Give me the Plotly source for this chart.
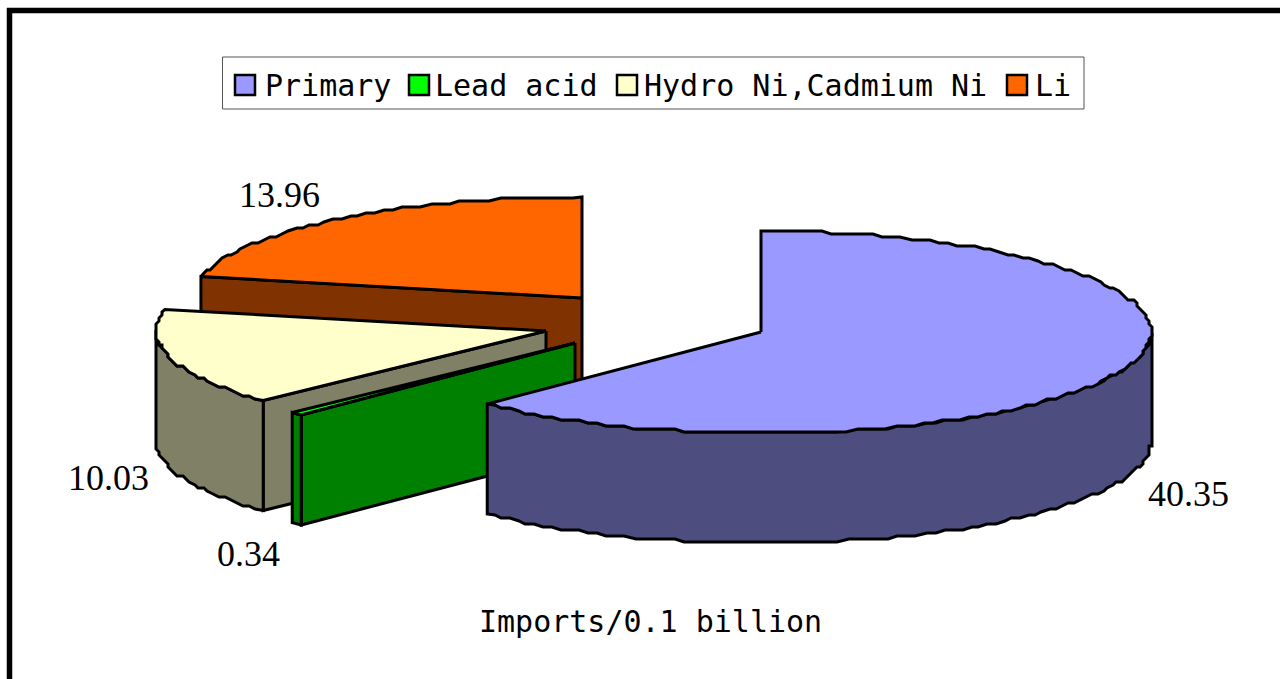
import math
import plotly.graph_objects as go

categories = ["Primary", "Lead acid", "Hydro Ni,Cadmium Ni", "Li"]
values = [40.35, 0.34, 10.03, 13.96]
value_labels = ["40.35", "0.34", "10.03", "13.96"]
caption = "Imports/0.1 billion"

top_colors = ["#9999FF", "#00FF00", "#FFFFCC", "#FF6600"]
side_colors = ["#4D4D80", "#008000", "#808066", "#803300"]

# Projection of the tilted pie onto the pixel-sized axes
RX, RY, DEPTH = 390, 101, 110
APEX = [(761, 332), (575, 343), (546, 331), (582, 298)]
LABEL_POS = [(1188, 494), (248, 554), (108, 478), (279, 195)]
LEGEND_SWATCH_X = [235, 409, 617, 1007]
LEGEND_TEXT_X = [263, 433, 642, 1033]
SANS = "DejaVu Sans Mono"
SERIF = "Liberation Serif"
STEP_X, STEP_Y = 3, 3


def exact(apex, deg, dz=0):
    a = math.radians(deg)
    return (apex[0] + RX * math.sin(a), apex[1] - RY * math.cos(a) + dz)


def rim(apex, deg, dz=0):
    x, y = exact(apex, deg)
    return (round(x / STEP_X) * STEP_X, round(y / STEP_Y) * STEP_Y + dz)


def arc(apex, a0, a1, dz=0):
    n = max(2, int(abs(a1 - a0) / 1.5))
    pts = [rim(apex, a0 + (a1 - a0) * i / n, dz) for i in range(n + 1)]
    # exact slice corners keep the edges crisp; 90/270 are rim tangents, not corners
    for i, deg in ((0, a0), (-1, a1)):
        if deg not in (90, 270):
            pts[i] = exact(apex, deg, dz)
    return pts


def poly(fig, pts, color, name):
    xs = [p[0] for p in pts] + [pts[0][0]]
    ys = [p[1] for p in pts] + [pts[0][1]]
    fig.add_trace(go.Scatter(
        x=xs, y=ys, mode="lines", fill="toself", fillcolor=color, name=name,
        line=dict(color="black", width=3, shape="linear"),
        hoverinfo="name", showlegend=False,
    ))


total = sum(values)
angles = []
start = 0.0
for v in values:
    end = start + v / total * 360
    angles.append((start, end))
    start = end

fig = go.Figure()
# Painter's order: back slices first
for i in (3, 2, 1, 0):
    apex = APEX[i]
    a0, a1 = angles[i]
    name = categories[i]
    # radial face at the slice start, seen for the slices left of centre
    if i in (1, 2, 3):
        r0 = exact(apex, a0)
        poly(fig, [apex, r0, (r0[0], r0[1] + DEPTH), (apex[0], apex[1] + DEPTH)],
             side_colors[i], name)
    # outer wall, only the front half of the rim
    w0, w1 = max(a0, 90), min(a1, 270)
    if w1 > w0:
        upper = arc(apex, w0, w1)
        lower = arc(apex, w1, w0, DEPTH)
        poly(fig, upper + lower, side_colors[i], name)
    # top surface
    poly(fig, [apex] + arc(apex, a0, a1), top_colors[i], name)

annotations = []
for txt, (x, y) in zip(value_labels, LABEL_POS):
    annotations.append(dict(x=x, y=y, xref="x", yref="y", text=txt, showarrow=False,
                            font=dict(family=SERIF, size=36, color="black"),
                            xanchor="center", yanchor="middle"))
annotations.append(dict(x=650, y=621, xref="x", yref="y", text=caption, showarrow=False,
                        font=dict(family=SANS, size=30, color="black"),
                        xanchor="center", yanchor="middle"))

shapes = [
    # outer chart frame: only top and left edges fall inside the picture
    dict(type="line", xref="x", yref="y", x0=7, y0=10.5, x1=1280, y1=10.5,
         line=dict(color="black", width=5.5)),
    dict(type="line", xref="x", yref="y", x0=9.5, y0=8, x1=9.5, y1=679,
         line=dict(color="black", width=5.5)),
    # legend box
    dict(type="rect", xref="x", yref="y", x0=222.5, y0=57, x1=1084, y1=109,
         line=dict(color="#555555", width=1), fillcolor="white", layer="below"),
]
for i, name in enumerate(categories):
    sx = LEGEND_SWATCH_X[i]
    shapes.append(dict(type="rect", xref="x", yref="y", x0=sx, y0=75, x1=sx + 20, y1=95,
                       line=dict(color="black", width=2.5), fillcolor=top_colors[i]))
    annotations.append(dict(x=LEGEND_TEXT_X[i], y=85, xref="x", yref="y", text=name,
                            showarrow=False, xanchor="left", yanchor="middle",
                            font=dict(family=SANS, size=30, color="black")))

fig.update_layout(
    width=1280, height=679, margin=dict(l=0, r=0, t=0, b=0),
    paper_bgcolor="white", plot_bgcolor="white", showlegend=False,
    xaxis=dict(range=[0, 1280], visible=False, fixedrange=True),
    yaxis=dict(range=[679, 0], visible=False, fixedrange=True),
    shapes=shapes, annotations=annotations,
)
fig.write_html("out.html", config=dict(displayModeBar=False),
               post_script="document.body.style.margin='0';document.body.style.overflow='hidden';")
